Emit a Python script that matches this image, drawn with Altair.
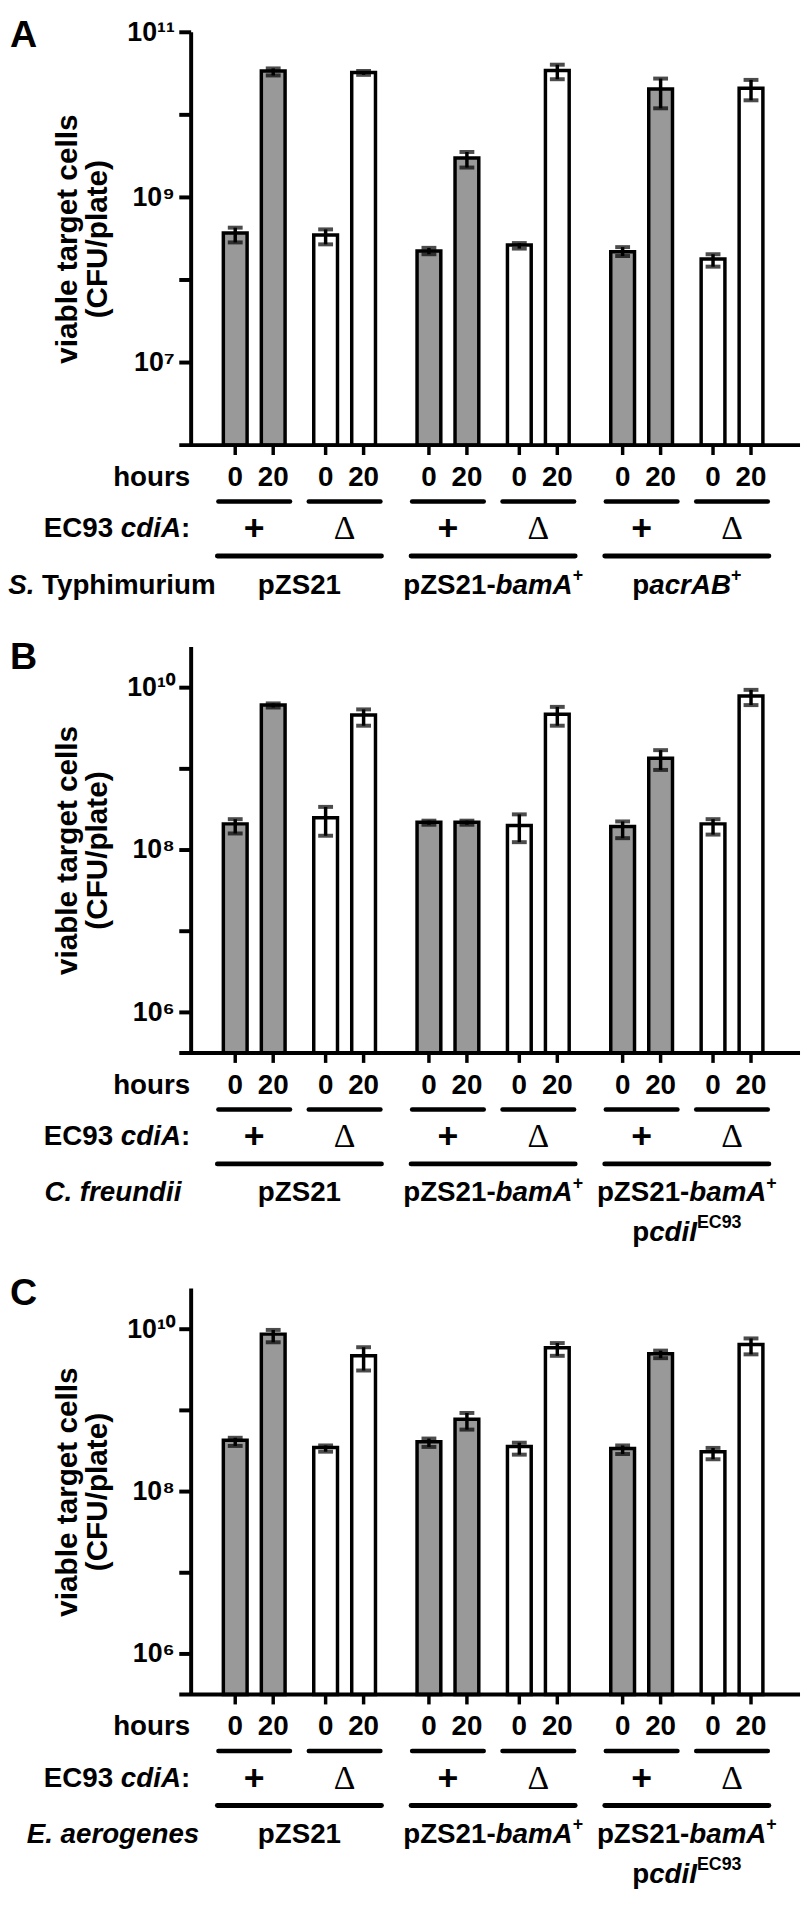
import altair as alt
import pandas as pd

# ---------------- data ----------------
hour_labels = ["0", "20"]
cdia_labels = ["+", "Δ"]

# order inside each panel: plasmid 1 (+ 0h, + 20h, Δ 0h, Δ 20h), plasmid 2 (...), plasmid 3 (...)
A_mean = [3.7e8, 3.4e10, 3.5e8, 3.25e10, 2.25e8, 3.0e9, 2.65e8, 3.45e10, 2.2e8, 2.05e10, 1.8e8, 2.1e10]
A_low = [2.85e8, 3.0e10, 2.7e8, 3.05e10, 2.05e8, 2.3e9, 2.4e8, 2.7e10, 1.95e8, 1.2e10, 1.45e8, 1.5e10]
A_high = [4.3e8, 3.65e10, 4.1e8, 3.4e10, 2.45e8, 3.55e9, 2.8e8, 4.05e10, 2.5e8, 2.75e10, 2.05e8, 2.65e10]

B_mean = [2.1e8, 6.1e9, 2.5e8, 4.6e9, 2.2e8, 2.2e8, 2.0e8, 4.7e9, 1.95e8, 1.35e9, 2.1e8, 7.9e9]
B_low = [1.6e8, 5.7e9, 1.5e8, 3.4e9, 2.05e8, 2.05e8, 1.25e8, 3.4e9, 1.4e8, 9.7e8, 1.55e8, 6.1e9]
B_high = [2.4e8, 6.4e9, 3.4e8, 5.4e9, 2.3e8, 2.3e8, 2.75e8, 5.8e9, 2.25e8, 1.7e9, 2.4e8, 9.4e9]

C_mean = [4.3e8, 8.7e9, 3.5e8, 4.7e9, 4.1e8, 7.8e8, 3.6e8, 5.9e9, 3.4e8, 5.0e9, 3.1e8, 6.5e9]
C_low = [3.65e8, 6.9e9, 3.1e8, 3.1e9, 3.55e8, 5.8e8, 2.85e8, 4.7e9, 2.9e8, 4.4e9, 2.5e8, 4.9e9]
C_high = [4.6e8, 9.8e9, 3.7e8, 6.0e9, 4.5e8, 9.3e8, 4.0e8, 6.75e9, 3.7e8, 5.45e9, 3.45e8, 7.7e9]

# y ticks (powers of ten) and which of them carry a label
A_tick_exps, A_label_exps = [7, 8, 9, 10, 11], [7, 9, 11]
BC_tick_exps, BC_label_exps = [6, 7, 8, 9, 10], [6, 8, 10]

# text pieces: (text, "n" normal | "i" italic | "s" superscript)
A_species = [("S.", "i"), (" Typhimurium", "n")]
B_species = [("C. freundii", "i")]
C_species = [("E. aerogenes", "i")]
pzs21 = [("pZS21", "n")]
pzs21_bama = [("pZS21-", "n"), ("bamA", "i"), ("+", "s")]
pacrab = [("p", "n"), ("acrAB", "i"), ("+", "s")]
pcdii = [("p", "n"), ("cdiI", "i"), ("EC93", "s")]
A_plasmids = [pzs21, pzs21_bama, pacrab]
BC_plasmids = [pzs21, pzs21_bama, pzs21_bama]
y_title = ["viable target cells", "(CFU/plate)"]

# ---------------- layout / style ----------------
FONT = "Liberation Sans, Arial, Helvetica, sans-serif"
SERIF = "Liberation Serif, Times New Roman, serif"
FS = 28
SUP_FS = 18
GRAY = "#999999"
W = 615
FIRST, BAR_STEP, PAIR_STEP, GROUP_STEP, XMAX = 1.03, 1.0, 2.38, 5.1, 15.77
R_HOURS, R_SHORT, R_CDIA, R_LONG, R_SPEC, R_LINE2 = 33, 57, 85, 112, 142, 182
YTICK = 12
XTICK = 10
AXW = 4

AW = {' ': 278, '(': 333, ')': 333, '+': 584, '-': 333, '.': 278, '/': 278, ':': 333,
      'A': 722, 'B': 722, 'C': 722, 'D': 722, 'E': 667, 'F': 611, 'G': 778, 'H': 722, 'I': 278,
      'J': 556, 'K': 722, 'L': 611, 'M': 833, 'N': 722, 'O': 778, 'P': 667, 'Q': 778, 'R': 722,
      'S': 667, 'T': 611, 'U': 722, 'V': 667, 'W': 944, 'X': 667, 'Y': 667, 'Z': 611,
      'a': 556, 'b': 611, 'c': 556, 'd': 611, 'e': 556, 'f': 333, 'g': 611, 'h': 611, 'i': 278,
      'j': 278, 'k': 556, 'l': 278, 'm': 889, 'n': 611, 'o': 611, 'p': 611, 'q': 611, 'r': 389,
      's': 556, 't': 333, 'u': 611, 'v': 556, 'w': 778, 'x': 556, 'y': 556, 'z': 500}
for d in "0123456789":
    AW[d] = 556


def tw(s, fs):
    return sum(AW.get(c, 556) for c in s) * fs / 1000.0


SUP = str.maketrans("0123456789", "⁰¹²³⁴⁵⁶⁷⁸⁹")
ONE = pd.DataFrame({"k": [0]})


def text_layer(df, x, y_px, txt, **kw):
    props = dict(font=FONT, fontSize=FS, fontWeight="bold", color="black",
                 align="left", baseline="middle", text=txt)
    props.update(kw)
    return alt.Chart(df).mark_text(**props).encode(x=x, y=alt.value(y_px))


def rich_label(df, x, y_px, segs, center_dx=0.0):
    sizes = [SUP_FS if st == "s" else FS for _, st in segs]
    widths = [tw(t, s) for (t, _), s in zip(segs, sizes)]
    off = center_dx - sum(widths) / 2.0
    out = []
    for (t, st), s, w in zip(segs, sizes, widths):
        lead = len(t) - len(t.lstrip())
        out.append(text_layer(df, x, y_px, t.strip(), dx=off + tw(t[:lead], s),
                              dy=-10 if st == "s" else 0, fontSize=s,
                              fontStyle="italic" if st == "i" else "normal"))
        off += w
    return out


def label_expr(exps):
    parts = [f"round(log(datum.value)/LN10) == {e} ? '10{str(e).translate(SUP)}'" for e in exps]
    return " : ".join(parts) + " : ''"


def panel(letter, letter_dy, mean, low, high, species, plasmids, line2,
          ylo, yhi, tick_exps, label_exps, H):
    rows = []
    for g in range(3):
        for c in range(2):
            for h in range(2):
                k = 4 * g + 2 * c + h
                rows.append({"group": g, "cdia": cdia_labels[c], "hours": hour_labels[h],
                             "slot": FIRST + g * GROUP_STEP + c * PAIR_STEP + h * BAR_STEP,
                             "mean": mean[k], "low": low[k], "high": high[k]})
    df = pd.DataFrame(rows)
    pairs = df.groupby(["group", "cdia"], as_index=False).agg(x0=("slot", "min"), x1=("slot", "max"))
    pairs["slot"] = (pairs.x0 + pairs.x1) / 2
    groups = df.groupby("group", as_index=False).agg(x0=("slot", "min"), x1=("slot", "max"))
    groups["slot"] = (groups.x0 + groups.x1) / 2
    ticks = pd.DataFrame({"mean": [10.0 ** e for e in tick_exps]})

    xs = alt.Scale(domain=[0, XMAX], nice=False, zero=False)
    ys = alt.Scale(type="log", domain=[10 ** ylo, 10 ** yhi], nice=False)
    yaxis = alt.Axis(values=[10 ** e for e in tick_exps], labelExpr=label_expr(label_exps),
                     grid=False, labelOverlap=False, domain=False, ticks=False,
                     labelFont=FONT, labelFontSize=27, labelFontWeight="bold", labelColor="black",
                     labelPadding=YTICK + 5, titleFont=FONT, titleFontSize=30,
                     titleFontWeight="bold", titleColor="black", titlePadding=14,
                     titleLineHeight=31)

    def X(f):
        return alt.X(f, scale=xs, axis=None)

    def Y(f):
        return alt.Y(f, scale=ys, axis=yaxis, title=y_title)

    bars = alt.Chart(df).mark_bar(size=24, stroke="black", strokeWidth=3.5).encode(
        x=X("slot:Q"),
        y=Y("mean:Q"),
        y2=alt.datum(10 ** ylo),
        fill=alt.Fill("cdia:N", scale=alt.Scale(domain=cdia_labels, range=[GRAY, "white"]), legend=None),
    )
    err = alt.Chart(df).mark_rule(color="black", strokeWidth=3.5).encode(
        x=X("slot:Q"), y=Y("low:Q"), y2=alt.Y2("high"))
    cap_lo = alt.Chart(df).mark_tick(orient="horizontal", color="black", size=15, thickness=4).encode(
        x=X("slot:Q"), y=Y("low:Q"))
    cap_hi = alt.Chart(df).mark_tick(orient="horizontal", color="black", size=15, thickness=4).encode(
        x=X("slot:Q"), y=Y("high:Q"))

    layers = [bars, err, cap_lo, cap_hi]
    # axis lines and ticks
    layers.append(alt.Chart(ONE).mark_rule(color="black", strokeWidth=AXW).encode(
        x=alt.value(0), y=alt.value(0), y2=alt.value(H)))
    layers.append(alt.Chart(ticks).mark_rule(color="black", strokeWidth=AXW).encode(
        x=alt.value(-YTICK), x2=alt.value(0), y=Y("mean:Q")))
    layers.append(alt.Chart(ONE).mark_rule(color="black", strokeWidth=AXW).encode(
        x=alt.value(-12), x2=alt.value(W), y=alt.value(H)))
    layers.append(alt.Chart(df).mark_rule(color="black", strokeWidth=3.5).encode(
        x=X("slot:Q"), y=alt.value(H), y2=alt.value(H + XTICK)))
    # hours row
    layers.append(alt.Chart(df).mark_text(font=FONT, fontSize=FS, fontWeight="bold", color="black",
                                          baseline="middle").encode(
        x=X("slot:Q"), y=alt.value(H + R_HOURS), text="hours:N"))
    layers.append(text_layer(ONE, alt.value(-1), H + R_HOURS, "hours", align="right"))
    # short lines under each pair
    layers.append(alt.Chart(pairs).mark_rule(color="black", strokeWidth=4.5, strokeCap="round",
                                             xOffset=-17, x2Offset=17).encode(
        x=X("x0:Q"), x2=alt.X2("x1"), y=alt.value(H + R_SHORT)))
    # + / Δ row
    layers.append(alt.Chart(pairs).transform_filter(alt.datum.cdia == "+").mark_text(
        font=FONT, fontSize=36, fontWeight="bold", color="black", baseline="middle").encode(
        x=X("slot:Q"), y=alt.value(H + R_CDIA), text="cdia:N"))
    layers.append(alt.Chart(pairs).transform_filter(alt.datum.cdia != "+").mark_text(
        font=SERIF, fontSize=34, color="black", baseline="middle").encode(
        x=X("slot:Q"), y=alt.value(H + R_CDIA), text="cdia:N"))
    w_colon = tw(":", FS)
    w_cdia = tw("cdiA", FS)
    w_space = tw(" ", FS)
    layers.append(text_layer(ONE, alt.value(-1), H + R_CDIA, ":", align="right"))
    layers.append(text_layer(ONE, alt.value(-1), H + R_CDIA, "cdiA", align="right",
                             dx=-w_colon, fontStyle="italic"))
    layers.append(text_layer(ONE, alt.value(-1), H + R_CDIA, "EC93", align="right",
                             dx=-w_colon - w_cdia - w_space))
    # long lines under each plasmid group
    layers.append(alt.Chart(groups).mark_rule(color="black", strokeWidth=5, strokeCap="round",
                                              xOffset=-18, x2Offset=18).encode(
        x=X("x0:Q"), x2=alt.X2("x1"), y=alt.value(H + R_LONG)))
    # species and plasmid labels
    layers += rich_label(ONE, alt.value(-79), H + R_SPEC, species)
    for g in range(3):
        layers += rich_label(groups[groups.group == g], X("slot:Q"), H + R_SPEC, plasmids[g])
    if line2 is not None:
        layers += rich_label(groups[groups.group == 2], X("slot:Q"), H + R_LINE2, line2)
    # panel letter
    layers.append(text_layer(ONE, alt.value(-183), letter_dy, letter, fontSize=38, baseline="top"))

    return alt.layer(*layers).properties(width=W, height=H)


A = panel("A", -15, A_mean, A_low, A_high, A_species, A_plasmids, None,
          6, 11, A_tick_exps, A_label_exps, 417)
B = panel("B", -8, B_mean, B_low, B_high, B_species, BC_plasmids, pcdii,
          5.5, 10.5, BC_tick_exps, BC_label_exps, 410)
C = panel("C", -13, C_mean, C_low, C_high, C_species, BC_plasmids, pcdii,
          5.5, 10.5, BC_tick_exps, BC_label_exps, 410)

lower = alt.vconcat(B, C, spacing=238, bounds="flush").resolve_scale(
    x="independent", y="independent", fill="independent")
chart = alt.vconcat(A, lower, spacing=204, bounds="flush").resolve_scale(
    x="independent", y="independent", fill="independent")
chart = (chart.configure_view(stroke=None)
         .properties(padding=0, background="white"))

chart.save("out.html", embed_options={"renderer": "svg", "actions": False})
